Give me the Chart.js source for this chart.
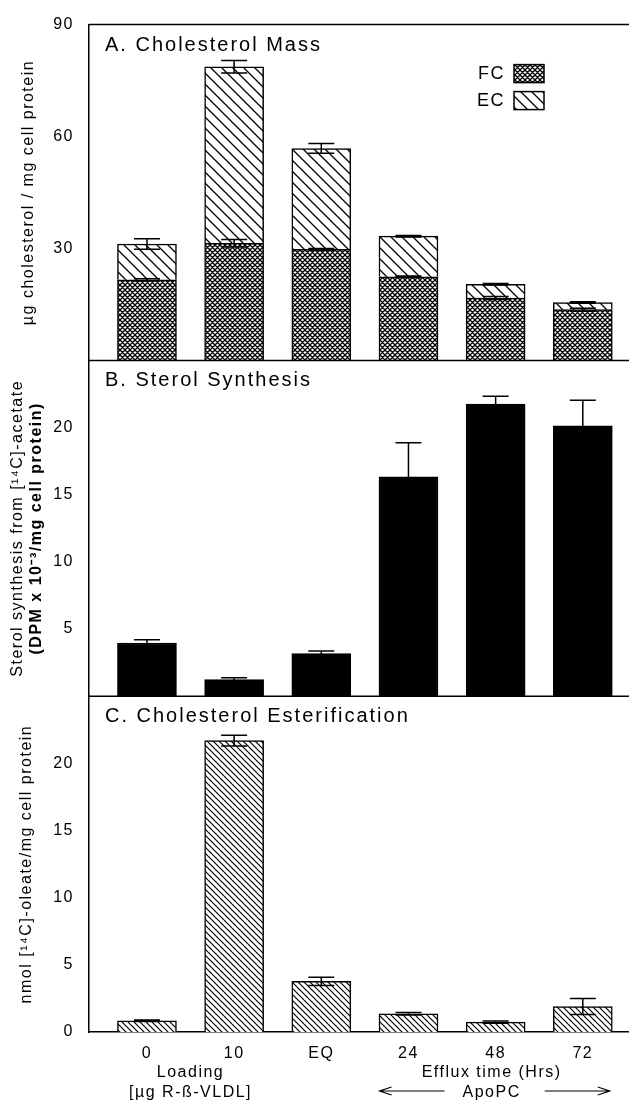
<!DOCTYPE html>
<html>
<head>
<meta charset="utf-8">
<script src="https://cdn.jsdelivr.net/npm/chart.js@4.4.1/dist/chart.umd.min.js"></script>
<style>
  html, body { margin: 0; padding: 0; background: #fff; overflow: hidden; }
  canvas { display: block; }
</style>
</head>
<body>
<canvas id="chart" width="629" height="1101"></canvas>
<script>
// 类别（x 轴）
const categories = ['0', '10', 'EQ', '24', '48', '72'];

// A. Cholesterol Mass (µg / mg cell protein)
const fcMass = [21.6, 31.4, 29.8, 22.4, 16.7, 13.6];
const ecMass = [9.6, 47.3, 27.0, 10.9, 3.7, 1.9];
const fcErr = [0.3, 1.0, 0.2, 0.2, 0.4, 0.4];
const totalErr = [1.4, 1.7, 1.3, 0.2, 0.2, 0.2];

// B. Sterol Synthesis (DPM x 10^-3 / mg cell protein)
const sterolSynthesis = [3.96, 1.24, 3.17, 16.33, 21.74, 20.13];
const sterolErr = [0.24, 0.13, 0.2, 2.54, 0.59, 1.91];

// C. Cholesterol Esterification (nmol oleate / mg cell protein)
const esterification = [0.84, 21.7, 3.77, 1.36, 0.74, 1.9];
const esterErr = [0.06, 0.4, 0.3, 0.09, 0.08, 0.6];

// 刻度
const ticksA = [30, 60, 90];
const ticksB = [5, 10, 15, 20];
const ticksC = [0, 5, 10, 15, 20];

const panelTitles = ['A. Cholesterol Mass', 'B. Sterol Synthesis', 'C. Cholesterol Esterification'];
const yTitleA = ['µg cholesterol / mg cell protein'];
const yTitleB = ['Sterol synthesis from [¹⁴C]-acetate', '(DPM x 10⁻³/mg cell protein)'];
const yTitleC = ['nmol [¹⁴C]-oleate/mg cell protein'];
const legendLabels = ['FC', 'EC'];
const loadingNote = ['Loading', '[µg R-ß-VLDL]'];
const effluxNote = ['Efflux time (Hrs)', 'ApoPC'];

const FONT = '"Liberation Sans", Arial, Helvetica, sans-serif';

// 填充图案
function hatch(size, lineWidth, cross) {
  const c = document.createElement('canvas');
  c.width = size; c.height = size;
  const g = c.getContext('2d');
  g.fillStyle = '#fff';
  g.fillRect(0, 0, size, size);
  g.strokeStyle = '#000';
  g.lineWidth = lineWidth;
  g.beginPath();
  g.moveTo(-1, -1); g.lineTo(size + 1, size + 1);
  g.moveTo(-1, size - 1); g.lineTo(1, size + 1);
  g.moveTo(size - 1, -1); g.lineTo(size + 1, 1);
  if (cross) {
    g.moveTo(-1, size + 1); g.lineTo(size + 1, -1);
    g.moveTo(-1, 1); g.lineTo(1, -1);
    g.moveTo(size - 1, size + 1); g.lineTo(size + 1, size - 1);
  }
  g.stroke();
  return g.createPattern(c, 'repeat');
}
const fcFill = hatch(5, 1.3, true);
const ecFill = hatch(11, 1.3, false);
const esterFill = hatch(6, 1.2, false);

const toXY = arr => arr.map((v, i) => ({ x: i, y: v }));

function barSet(label, values, axis, fill) {
  return {
    label: label,
    data: toXY(values),
    yAxisID: axis,
    stack: 'all',
    backgroundColor: fill,
    borderColor: '#000',
    borderWidth: 1.5,
    barThickness: 59
  };
}

function yAxis(max, tickValues) {
  return {
    type: 'linear',
    position: 'left',
    stack: 'panels',
    stackWeight: 1,
    min: 0,
    max: max,
    grid: { display: false, drawTicks: false },
    border: { display: true, color: '#000', width: 1.5 },
    afterBuildTicks: s => { s.ticks = tickValues.map(v => ({ value: v })); },
    afterFit: s => { s.width = 89; },
    ticks: { color: '#000', font: { family: FONT, size: 16 }, padding: 15 }
  };
}

// 误差线
const errorBars = [
  { dataset: 0, axis: 'yA', err: fcErr },
  { dataset: 1, axis: 'yA', err: totalErr },
  { dataset: 2, axis: 'yB', err: sterolErr },
  { dataset: 3, axis: 'yC', err: esterErr }
];

function drawArrow(ctx, x1, x2, y) {
  const dir = Math.sign(x2 - x1);
  ctx.beginPath();
  ctx.moveTo(x1, y); ctx.lineTo(x2, y);
  ctx.moveTo(x2 - dir * 12, y - 4); ctx.lineTo(x2, y); ctx.lineTo(x2 - dir * 12, y + 4);
  ctx.stroke();
}

const figurePlugin = {
  id: 'figure',
  beforeUpdate(chart) { chart.ctx.letterSpacing = '1.5px'; },
  beforeDraw(chart) {
    const ctx = chart.ctx;
    ctx.letterSpacing = '1.5px';
    ctx.save();
    ctx.fillStyle = '#fff';
    ctx.fillRect(0, 0, chart.width, chart.height);
    ctx.restore();
  },
  afterDatasetsDraw(chart) {
    const ctx = chart.ctx;
    ctx.save();
    ctx.strokeStyle = '#000';
    ctx.lineWidth = 1.5;
    errorBars.forEach(eb => {
      const meta = chart.getDatasetMeta(eb.dataset);
      const ys = chart.scales[eb.axis];
      const unit = Math.abs(ys.getPixelForValue(0) - ys.getPixelForValue(1));
      meta.data.forEach((bar, j) => {
        const e = eb.err[j] * unit;
        const cap = 13;
        ctx.beginPath();
        ctx.moveTo(bar.x, bar.y - e); ctx.lineTo(bar.x, bar.y + e);
        ctx.moveTo(bar.x - cap, bar.y - e); ctx.lineTo(bar.x + cap, bar.y - e);
        ctx.moveTo(bar.x - cap, bar.y + e); ctx.lineTo(bar.x + cap, bar.y + e);
        ctx.stroke();
      });
    });
    ctx.restore();
  },
  afterDraw(chart) {
    const ctx = chart.ctx;
    const area = chart.chartArea;
    const axes = ['yA', 'yB', 'yC'].map(id => chart.scales[id]);
    ctx.save();
    ctx.strokeStyle = '#000';
    ctx.fillStyle = '#000';
    ctx.lineWidth = 1.5;

    // 面板分隔线与标题
    axes.forEach((s, i) => {
      ctx.beginPath();
      ctx.moveTo(area.left, s.top);
      ctx.lineTo(area.right, s.top);
      ctx.stroke();
      ctx.font = '20px ' + FONT;
      ctx.letterSpacing = '2px';
      ctx.textAlign = 'left';
      ctx.textBaseline = 'alphabetic';
      ctx.fillText(panelTitles[i], area.left + 16, s.top + 26);
    });

    // y 轴标题
    ctx.letterSpacing = '1.5px';
    ctx.textAlign = 'center';
    ctx.textBaseline = 'middle';
    const yTitles = [
      { s: axes[0], lines: yTitleA, xs: [29], bold: [false] },
      { s: axes[1], lines: yTitleB, xs: [18, 37], bold: [false, true] },
      { s: axes[2], lines: yTitleC, xs: [27], bold: [false] }
    ];
    yTitles.forEach(t => {
      const cy = (t.s.top + t.s.bottom) / 2;
      t.lines.forEach((line, k) => {
        ctx.save();
        ctx.translate(t.xs[k], cy);
        ctx.rotate(-Math.PI / 2);
        ctx.font = (t.bold[k] ? 'bold ' : '') + '16px ' + FONT;
        ctx.fillText(line, 0, 0);
        ctx.restore();
      });
    });

    // 图例（A 面板）
    const fills = [fcFill, ecFill];
    ctx.font = '18px ' + FONT;
    ctx.textAlign = 'right';
    ctx.textBaseline = 'alphabetic';
    legendLabels.forEach((lab, i) => {
      const top = axes[0].top + 40 + i * 27;
      ctx.fillText(lab, area.left + 416, top + 14);
      ctx.fillStyle = fills[i];
      ctx.fillRect(area.left + 425, top, 30, 18);
      ctx.strokeRect(area.left + 425, top, 30, 18);
      ctx.fillStyle = '#000';
    });

    // x 轴附注
    const xs = chart.scales.x;
    const base = xs.top;
    ctx.font = '16px ' + FONT;
    ctx.textAlign = 'center';
    const loadX = (xs.getPixelForValue(0) + xs.getPixelForValue(1)) / 2;
    const effX = xs.getPixelForValue(4);
    loadingNote.forEach((line, k) => ctx.fillText(line, loadX, base + 45 + k * 19.5));
    effluxNote.forEach((line, k) => ctx.fillText(line, effX - 4, base + 45 + k * 19.5));
    const w = ctx.measureText(effluxNote[1]).width / 2;
    ctx.lineWidth = 1.2;
    const ay = base + 59;
    drawArrow(ctx, effX - w - 22, effX - w - 87, ay);
    drawArrow(ctx, effX + w + 20, effX + w + 85, ay);
    ctx.restore();
  }
};

const chart = new Chart(document.getElementById('chart'), {
  type: 'bar',
  data: {
    datasets: [
      barSet('FC', fcMass, 'yA', fcFill),
      barSet('EC', ecMass, 'yA', ecFill),
      barSet('Sterol synthesis', sterolSynthesis, 'yB', '#000'),
      barSet('Cholesterol esterification', esterification, 'yC', esterFill)
    ]
  },
  options: {
    responsive: false,
    animation: false,
    devicePixelRatio: 1,
    events: [],
    layout: { padding: { top: 17, right: 0, left: 0, bottom: 0 } },
    scales: {
      x: {
        type: 'linear',
        offset: false,
        min: -0.665,
        max: 5.53,
        grid: { display: false, drawTicks: false, offset: false },
        border: { display: true, color: '#000', width: 1.5 },
        afterBuildTicks: s => { s.ticks = categories.map((c, i) => ({ value: i })); },
        afterFit: s => { s.height = 69; },
        ticks: {
          color: '#000',
          font: { family: FONT, size: 16 },
          padding: 12,
          maxRotation: 0,
          autoSkip: false,
          callback: v => categories[v]
        }
      },
      yC: yAxis(25, ticksC),
      yB: yAxis(25, ticksB),
      yA: yAxis(90, ticksA)
    },
    plugins: {
      legend: { display: false },
      title: { display: false },
      tooltip: { enabled: false }
    }
  },
  plugins: [figurePlugin]
});
</script>
</body>
</html>
